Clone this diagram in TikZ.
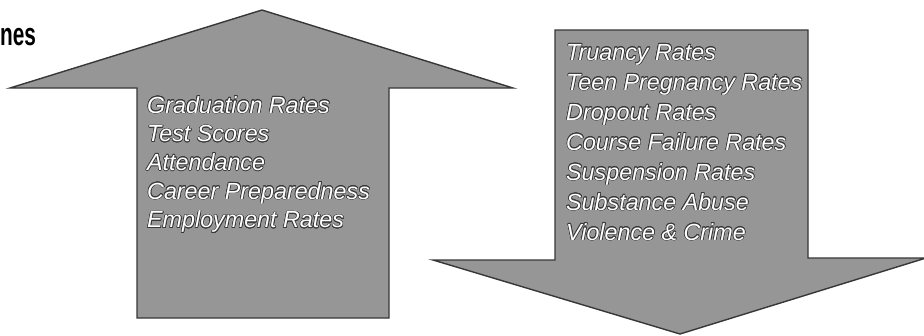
\documentclass[tikz,border=0pt]{standalone}
\usepackage{fontspec}
\setsansfont{Liberation Sans}
\usepackage{contour}
\contourlength{0.6pt}
\definecolor{arrowgray}{RGB}{150,150,150}
\definecolor{edgegray}{RGB}{55,55,55}
\newcommand{\outl}[1]{\contour{edgegray}{#1}}
\tikzset{arrowbody/.style={fill=arrowgray, draw=edgegray, line width=1.4pt, line join=miter},
         itemtext/.style={anchor=base west, inner sep=0pt, white, font=\sffamily\itshape\fontsize{23.3}{28}\selectfont}}

\begin{document}
\begin{tikzpicture}[x=1pt,y=-1pt]
   \useasboundingbox (0,0) rectangle (924,335);
   \node[anchor=base west, inner sep=0pt, font=\sffamily\bfseries\fontsize{32}{34}\selectfont, xscale=0.65, transform shape] (ttl) at (0,45) {nes};
   \begin{scope}
    \coordinate (lw) at ( 10, 88);
    \coordinate (tip) at (262, 10);
    \coordinate (rw) at (513, 88);
    \coordinate (rt) at (389, 88);
    \coordinate (rb) at (389,318);
    \coordinate (lb) at (137,318);
    \coordinate (lt) at (137,88);
    \draw[arrowbody] (lw) -- (tip) -- (rw) -- (rt) -- (rb) -- (lb) -- (lt) -- cycle;
    \node[itemtext] (up1) at (147,113.0) {\outl{Graduation Rates}};
    \node[itemtext] (up2) at (147,141.7) {\outl{Test Scores}};
    \node[itemtext] (up3) at (147,170.4) {\outl{Attendance}};
    \node[itemtext] (up4) at (147,199.1) {\outl{Career Preparedness}};
    \node[itemtext] (up5) at (147,227.8) {\outl{Employment Rates}};
   \end{scope}
   \begin{scope}
    \coordinate (lt) at (555, 30);
    \coordinate (rt) at (808, 30);
    \coordinate (rb) at (808,258);
    \coordinate (rw) at (926,258);
    \coordinate (tip) at (680,334);
    \coordinate (lw) at (433,260);
    \coordinate (lb) at (555,260);
    \draw[arrowbody] (lt) -- (rt) -- (rb) -- (rw) -- (tip) -- (lw) -- (lb) -- cycle;
    \node[itemtext] (dn1) at (566, 60.0) {\outl{Truancy Rates}};
    \node[itemtext] (dn2) at (566, 90.0) {\outl{Teen Pregnancy Rates}};
    \node[itemtext] (dn3) at (566,120.0) {\outl{Dropout Rates}};
    \node[itemtext] (dn4) at (566,150.0) {\outl{Course Failure Rates}};
    \node[itemtext] (dn5) at (566,180.0) {\outl{Suspension Rates}};
    \node[itemtext] (dn6) at (566,210.0) {\outl{Substance Abuse}};
    \node[itemtext] (dn7) at (566,240.0) {\outl{Violence \& Crime}};
   \end{scope}
\end{tikzpicture}
\end{document}
